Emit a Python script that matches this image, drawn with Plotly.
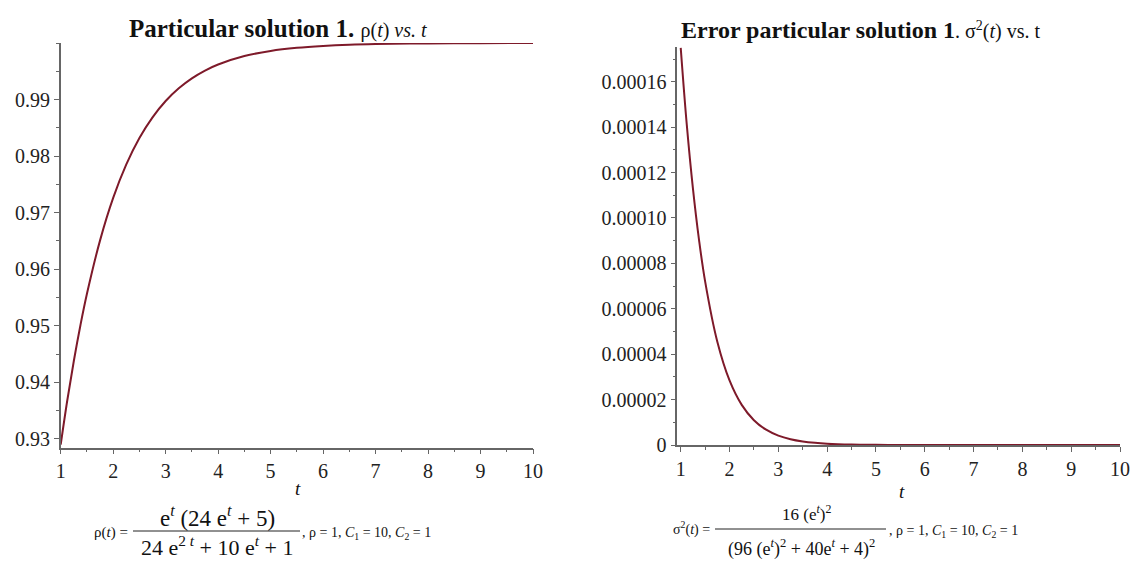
import plotly.graph_objects as go

# ---- data ----
t_vals = [1, 1.125, 1.25, 1.375, 1.5, 1.75, 2, 2.25, 2.5, 2.75, 3, 3.25, 3.5, 3.75, 4, 4.5, 5, 5.5, 6, 6.5, 7, 8, 9, 10]
rho_vals = [0.92900, 0.93680, 0.94379, 0.95006, 0.95566, 0.96511, 0.97261, 0.97853, 0.98320, 0.98686,
            0.98974, 0.99199, 0.99375, 0.99513, 0.99620, 0.99769, 0.99860, 0.99915, 0.99948, 0.99969,
            0.99981, 0.99993, 0.99997, 0.99999]
sigma2_vals = [1.7494e-4, 1.4088e-4, 1.1305e-4, 9.040e-5, 7.208e-5, 4.548e-5, 2.8454e-5, 1.7683e-5,
               1.0931e-5, 6.729e-6, 4.129e-6, 2.528e-6, 1.544e-6, 9.42e-7, 5.74e-7, 2.12e-7, 7.8e-8,
               2.9e-8, 1.1e-8, 3.9e-9, 1.4e-9, 2e-10, 3e-11, 4e-12]
x_ticks = [1, 2, 3, 4, 5, 6, 7, 8, 9, 10]
rho_ticks = [0.93, 0.94, 0.95, 0.96, 0.97, 0.98, 0.99]
sig_ticks = [0, 0.00002, 0.00004, 0.00006, 0.00008, 0.00010, 0.00012, 0.00014, 0.00016]
sig_tick_text = ["0", "0.00002", "0.00004", "0.00006", "0.00008", "0.00010", "0.00012", "0.00014", "0.00016"]

W, H = 1132, 563
LINE = "#7e1a2a"
AXC = "#666666"
SERIF = "Liberation Serif"
NB = "\u00a0"


def px(x):
    return x / W


def py(y):
    return 1 - y / H


fig = go.Figure()
fig.add_trace(go.Scatter(x=t_vals, y=rho_vals, mode="lines", line=dict(color=LINE, width=2, shape="spline"),
                         xaxis="x", yaxis="y", showlegend=False, hoverinfo="x+y"))
fig.add_trace(go.Scatter(x=t_vals, y=sigma2_vals, mode="lines", line=dict(color=LINE, width=2, shape="spline"),
                         xaxis="x2", yaxis="y2", showlegend=False, hoverinfo="x+y"))

axis_common = dict(showgrid=False, zeroline=False, showline=True, linecolor=AXC, linewidth=1.5,
                   ticks="outside", ticklen=5, tickcolor=AXC, tickwidth=1.2, automargin=False,
                   tickfont=dict(family=SERIF, size=20, color="#222222"))

fig.update_layout(
    width=W, height=H, margin=dict(l=0, r=0, t=0, b=0, pad=0),
    paper_bgcolor="white", plot_bgcolor="white",
    xaxis=dict(domain=[px(60.7), px(533)], range=[1, 10], tickvals=x_ticks, anchor="y",
               minor=dict(dtick=0.5, tick0=1, ticklen=3, tickcolor=AXC, ticks="outside"), **axis_common),
    yaxis=dict(domain=[py(447.7), py(43)], range=[0.92846, 1.0], tickvals=rho_ticks, tickformat=".2f",
               anchor="x", minor=dict(dtick=0.005, tick0=0.93, ticklen=3, tickcolor=AXC, ticks="outside"),
               **axis_common),
    xaxis2=dict(domain=[px(677.3), px(1120)], range=[0.93, 10], tickvals=x_ticks, anchor="y2",
                minor=dict(dtick=0.5, tick0=1, ticklen=3, tickcolor=AXC, ticks="outside"), **axis_common),
    yaxis2=dict(domain=[py(445), py(47)], range=[0, 0.0001753], tickvals=sig_ticks, ticktext=sig_tick_text,
                anchor="x2", minor=dict(dtick=0.00001, tick0=0, ticklen=3, tickcolor=AXC, ticks="outside"),
                **axis_common),
)

ann = []


def add_text(text, x, y, size, xanchor="center", yanchor="middle", family=SERIF, color="#111111"):
    ann.append(dict(text=text, x=px(x), y=py(y), xref="paper", yref="paper", showarrow=False,
                    xanchor=xanchor, yanchor=yanchor, font=dict(family=family, size=size, color=color)))


# titles
add_text("<b>Particular solution 1.</b> <span style='font-size:20px'>ρ(<i>t</i>)" + NB + "<i>vs." + NB + "t</i></span>",
         278, 28, 25)
add_text("<b>Error particular solution 1</b><span style='font-size:20px'>. σ<sup>2</sup>(<i>t</i>)" + NB + "vs." + NB + "t</span>",
         860, 30, 24)

# axis labels
add_text("<i>t</i>", 298, 488, 19)
add_text("<i>t</i>", 902, 491, 19)

# left formula
sp = NB
add_text("ρ(<i>t</i>)" + sp + "=", 130, 532, 15, xanchor="right")
add_text("e<sup><i>t</i></sup>" + sp + "(24" + sp + "e<sup><i>t</i></sup>" + sp + "+" + sp + "5)", 217, 516, 23)
add_text("24" + sp + "e<sup>2" + sp + "<i>t</i></sup>" + sp + "+" + sp + "10" + sp + "e<sup><i>t</i></sup>" + sp + "+" + sp + "1",
         217, 546, 22)
add_text(", ρ = 1, <i>C</i><sub>1</sub> = 10, <i>C</i><sub>2</sub> = 1", 300, 533, 14, xanchor="left")

# right formula
add_text("σ<sup>2</sup>(<i>t</i>)" + sp + "=", 712, 528, 14, xanchor="right")
add_text("16" + sp + "(e<sup><i>t</i></sup>)<sup>2</sup>", 806, 513, 17)
add_text("(96" + sp + "(e<sup><i>t</i></sup>)<sup>2</sup>" + sp + "+" + sp + "40e<sup><i>t</i></sup>" + sp + "+" + sp + "4)<sup>2</sup>",
         801, 548, 18)
add_text(", ρ = 1, <i>C</i><sub>1</sub> = 10, <i>C</i><sub>2</sub> = 1", 887, 531, 14, xanchor="left")

fig.update_layout(annotations=ann)

# fraction bars
fig.add_shape(type="line", xref="paper", yref="paper", x0=px(133), x1=px(300), y0=py(531), y1=py(531),
              line=dict(color="#222222", width=1))
fig.add_shape(type="line", xref="paper", yref="paper", x0=px(715), x1=px(886), y0=py(529), y1=py(529),
              line=dict(color="#222222", width=1))

fig.write_html("out.html")
